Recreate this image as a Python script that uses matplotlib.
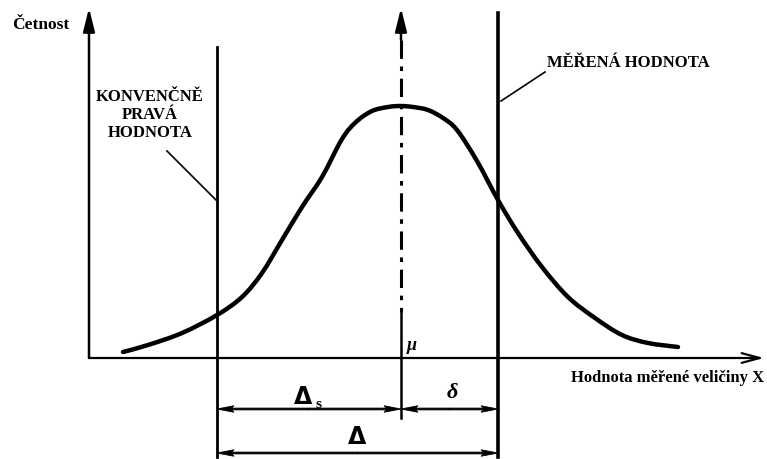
import matplotlib
matplotlib.use("Agg")
import matplotlib.pyplot as plt
from matplotlib.patches import FancyArrowPatch, PathPatch
from matplotlib.path import Path

# ---- data (in pixel-like diagram units) ----
curve_x = [123, 148, 182, 217, 242, 262, 282, 302, 322, 342, 356, 372, 388, 400,
           413, 428, 443, 457, 477, 498, 518, 542, 568, 595, 622, 648, 678]
curve_y = [352, 345, 333, 315, 297, 273, 240, 207, 177, 139, 122, 111, 107, 106,
           107, 110, 118, 130, 161, 200, 233, 267, 297, 318, 335, 343, 347]

axis_origin = (89, 358)
x_axis_end = 764
y_axis_top = 8
mu_x = 401
true_x = 217
meas_x = 498
dim_y1 = 409
dim_y2 = 453

y_label = "Četnost"
x_label = "Hodnota měřené veličiny X"
true_label = "KONVENČNĚ\nPRAVÁ\nHODNOTA"
meas_label = "MĚŘENÁ HODNOTA"

fig = plt.figure(figsize=(7.67, 4.59), dpi=100)
ax = fig.add_axes([0, 0, 1, 1])
ax.set_xlim(0, 767)
ax.set_ylim(459, 0)
ax.axis("off")

font = dict(family=["Liberation Serif", "DejaVu Serif"], fontweight="bold", color="black")
k = "black"


def arrow(p0, p1, style, lw):
    a = FancyArrowPatch(p0, p1, arrowstyle=style, lw=lw, color=k,
                        shrinkA=0, shrinkB=0, mutation_scale=10)
    ax.add_patch(a)


def dim_arrow(x0, x1, y):
    mid = (x0 + x1) / 2.0
    for end in (x0, x1):
        ax.arrow(mid, y, end - mid, 0, width=1.8, head_width=6.5, head_length=17,
                 length_includes_head=True, color=k, lw=0.6, overhang=0.15)


# axes arrows
arrow((axis_origin[0], axis_origin[1]), (axis_origin[0], y_axis_top),
      "-|>,head_length=1.4,head_width=0.35", 1.8)
arrow((axis_origin[0], axis_origin[1]), (x_axis_end, axis_origin[1]),
      "->,head_length=1.3,head_width=0.35", 1.6)

# mean line: arrow at top, dash-dot upper part, solid lower part
arrow((mu_x, 40), (mu_x, y_axis_top), "-|>,head_length=1.4,head_width=0.35", 1.8)
ax.plot([mu_x, mu_x], [40, 312], color=k, lw=2.2, dashes=(6, 2.5, 1.5, 2.5))
ax.plot([mu_x, mu_x], [312, 418], color=k, lw=1.8)

# vertical lines for true and measured value
ax.plot([true_x, true_x], [47, 457], color=k, lw=2.0)
ax.plot([meas_x, meas_x], [13, 457], color=k, lw=2.6)

# distribution curve, drawn smoothly through the read points (Catmull-Rom -> Bezier)
pts = list(zip(curve_x, curve_y))
verts = [pts[0]]
codes = [Path.MOVETO]
for i in range(len(pts) - 1):
    p0 = pts[i - 1] if i > 0 else pts[i]
    p1 = pts[i]
    p2 = pts[i + 1]
    p3 = pts[i + 2] if i + 2 < len(pts) else pts[i + 1]
    c1 = (p1[0] + (p2[0] - p0[0]) / 6.0, p1[1] + (p2[1] - p0[1]) / 6.0)
    c2 = (p2[0] - (p3[0] - p1[0]) / 6.0, p2[1] - (p3[1] - p1[1]) / 6.0)
    verts += [c1, c2, p2]
    codes += [Path.CURVE4] * 3
ax.add_patch(PathPatch(Path(verts, codes), fill=False, lw=3.2, edgecolor=k,
                       capstyle="round", joinstyle="round"))

# dimension arrows
dim_arrow(true_x, mu_x, dim_y1)
dim_arrow(mu_x, meas_x, dim_y1)
dim_arrow(true_x, meas_x, dim_y2)

# labels
ax.text(12, 25, y_label, fontsize=12.5, ha="left", va="center", **font)
ax.text(x_axis_end, 378, x_label, fontsize=12, ha="right", va="center", **font)
ax.text(150, 115, true_label, fontsize=12, ha="center", va="center", linespacing=1.15, **font)
ax.text(547, 63, meas_label, fontsize=12, ha="left", va="center", **font)

# annotation leader lines
ax.plot([167, 216], [151, 200], color=k, lw=1.2)
ax.plot([545, 501], [72, 101], color=k, lw=1.2)

# dimension labels
ax.text(303, 397, "$\\mathbf{\\Delta}$", fontsize=17, ha="center", va="center", color=k)
ax.text(318, 404, "s", fontsize=11, ha="center", va="center", **font)
ax.text(452, 393, "δ", fontsize=16, ha="center", va="center", style="italic", **font)
ax.text(357, 437, "$\\mathbf{\\Delta}$", fontsize=17, ha="center", va="center", color=k)
ax.text(412, 346, "μ", fontsize=13, ha="center", va="center", style="italic", **font)

fig.savefig("out.png", dpi=100)
